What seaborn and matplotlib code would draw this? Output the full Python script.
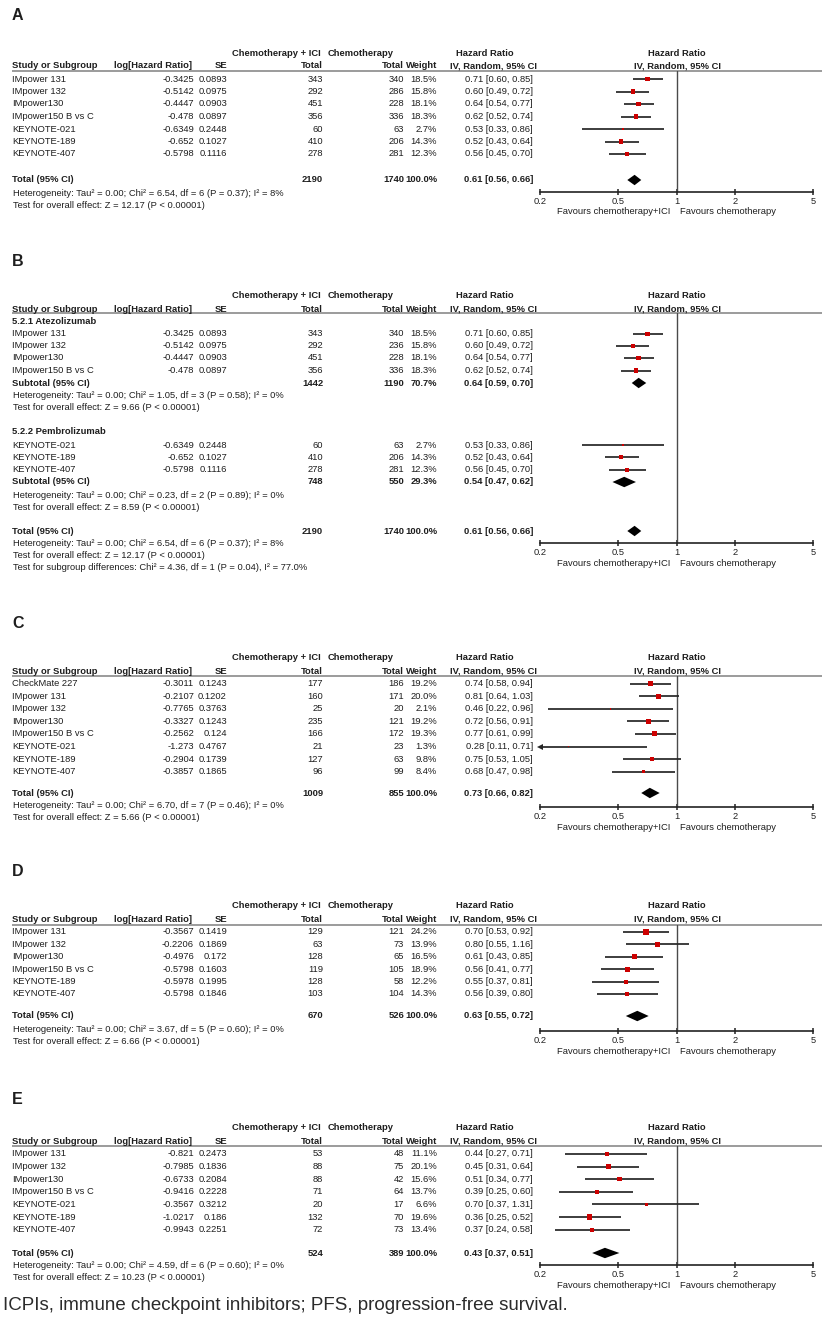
import numpy as np
import matplotlib
matplotlib.use("Agg")
import matplotlib.pyplot as plt
from matplotlib.ticker import NullLocator
import seaborn as sns
import pandas as pd

sns.set_theme(style="white")
plt.rcParams['font.family'] = ['Liberation Sans', 'DejaVu Sans']

# ---------------- data ----------------
# Panel A
A_study = ['IMpower 131', 'IMpower 132', 'IMpower130', 'IMpower150 B vs C', 'KEYNOTE-021', 'KEYNOTE-189', 'KEYNOTE-407']
A_loghr = [-0.3425, -0.5142, -0.4447, -0.478, -0.6349, -0.652, -0.5798]
A_se = [0.0893, 0.0975, 0.0903, 0.0897, 0.2448, 0.1027, 0.1116]
A_ici = [343, 292, 451, 356, 60, 410, 278]
A_chemo = [340, 286, 228, 336, 63, 206, 281]
A_weight = [18.5, 15.8, 18.1, 18.3, 2.7, 14.3, 12.3]
A_hr = [0.71, 0.60, 0.64, 0.62, 0.53, 0.52, 0.56]
A_lo = [0.60, 0.49, 0.54, 0.52, 0.33, 0.43, 0.45]
A_hi = [0.85, 0.72, 0.77, 0.74, 0.86, 0.64, 0.70]
A_total = [2190, 1740, 100.0, 0.61, 0.56, 0.66]
A_stats = ['Heterogeneity: Tau² = 0.00; Chi² = 6.54, df = 6 (P = 0.37); I² = 8%',
           'Test for overall effect: Z = 12.17 (P < 0.00001)']

# Panel B (subgroups)
B_groups = ['5.2.1 Atezolizumab', '5.2.2 Pembrolizumab']
B_study = A_study
B_loghr = A_loghr
B_se = A_se
B_ici = A_ici
B_chemo = [340, 236, 228, 336, 63, 206, 281]
B_weight = A_weight
B_hr = A_hr
B_lo = A_lo
B_hi = A_hi
B_sub = [[1442, 1190, 70.7, 0.64, 0.59, 0.70],
         [748, 550, 29.3, 0.54, 0.47, 0.62]]
B_sub_stats = [['Heterogeneity: Tau² = 0.00; Chi² = 1.05, df = 3 (P = 0.58); I² = 0%',
                'Test for overall effect: Z = 9.66 (P < 0.00001)'],
               ['Heterogeneity: Tau² = 0.00; Chi² = 0.23, df = 2 (P = 0.89); I² = 0%',
                'Test for overall effect: Z = 8.59 (P < 0.00001)']]
B_total = A_total
B_stats = A_stats + ['Test for subgroup differences: Chi² = 4.36, df = 1 (P = 0.04), I² = 77.0%']

# Panel C
C_study = ['CheckMate 227', 'IMpower 131', 'IMpower 132', 'IMpower130', 'IMpower150 B vs C', 'KEYNOTE-021', 'KEYNOTE-189', 'KEYNOTE-407']
C_loghr = [-0.3011, -0.2107, -0.7765, -0.3327, -0.2562, -1.273, -0.2904, -0.3857]
C_se = [0.1243, 0.1202, 0.3763, 0.1243, 0.124, 0.4767, 0.1739, 0.1865]
C_ici = [177, 160, 25, 235, 166, 21, 127, 96]
C_chemo = [186, 171, 20, 121, 172, 23, 63, 99]
C_weight = [19.2, 20.0, 2.1, 19.2, 19.3, 1.3, 9.8, 8.4]
C_hr = [0.74, 0.81, 0.46, 0.72, 0.77, 0.28, 0.75, 0.68]
C_lo = [0.58, 0.64, 0.22, 0.56, 0.61, 0.11, 0.53, 0.47]
C_hi = [0.94, 1.03, 0.96, 0.91, 0.99, 0.71, 1.05, 0.98]
C_total = [1009, 855, 100.0, 0.73, 0.66, 0.82]
C_stats = ['Heterogeneity: Tau² = 0.00; Chi² = 6.70, df = 7 (P = 0.46); I² = 0%',
           'Test for overall effect: Z = 5.66 (P < 0.00001)']

# Panel D
D_study = ['IMpower 131', 'IMpower 132', 'IMpower130', 'IMpower150 B vs C', 'KEYNOTE-189', 'KEYNOTE-407']
D_loghr = [-0.3567, -0.2206, -0.4976, -0.5798, -0.5978, -0.5798]
D_se = [0.1419, 0.1869, 0.172, 0.1603, 0.1995, 0.1846]
D_ici = [129, 63, 128, 119, 128, 103]
D_chemo = [121, 73, 65, 105, 58, 104]
D_weight = [24.2, 13.9, 16.5, 18.9, 12.2, 14.3]
D_hr = [0.70, 0.80, 0.61, 0.56, 0.55, 0.56]
D_lo = [0.53, 0.55, 0.43, 0.41, 0.37, 0.39]
D_hi = [0.92, 1.16, 0.85, 0.77, 0.81, 0.80]
D_total = [670, 526, 100.0, 0.63, 0.55, 0.72]
D_stats = ['Heterogeneity: Tau² = 0.00; Chi² = 3.67, df = 5 (P = 0.60); I² = 0%',
           'Test for overall effect: Z = 6.66 (P < 0.00001)']

# Panel E
E_study = ['IMpower 131', 'IMpower 132', 'IMpower130', 'IMpower150 B vs C', 'KEYNOTE-021', 'KEYNOTE-189', 'KEYNOTE-407']
E_loghr = [-0.821, -0.7985, -0.6733, -0.9416, -0.3567, -1.0217, -0.9943]
E_se = [0.2473, 0.1836, 0.2084, 0.2228, 0.3212, 0.186, 0.2251]
E_ici = [53, 88, 88, 71, 20, 132, 72]
E_chemo = [48, 75, 42, 64, 17, 70, 73]
E_weight = [11.1, 20.1, 15.6, 13.7, 6.6, 19.6, 13.4]
E_hr = [0.44, 0.45, 0.51, 0.39, 0.70, 0.36, 0.37]
E_lo = [0.27, 0.31, 0.34, 0.25, 0.37, 0.25, 0.24]
E_hi = [0.71, 0.64, 0.77, 0.60, 1.31, 0.52, 0.58]
E_total = [524, 389, 100.0, 0.43, 0.37, 0.51]
E_stats = ['Heterogeneity: Tau² = 0.00; Chi² = 4.59, df = 6 (P = 0.60); I² = 0%',
           'Test for overall effect: Z = 10.23 (P < 0.00001)']

TICKS = [0.2, 0.5, 1, 2, 5]
TICK_LABELS = ['0.2', '0.5', '1', '2', '5']
FAV_LEFT = 'Favours chemotherapy+ICI'
FAV_RIGHT = 'Favours chemotherapy'
CAPTION = 'ICPIs, immune checkpoint inhibitors; PFS, progression-free survival.'

# ---------------- layout ----------------
W, H = 831, 1339
FS = 6.75
TXT = '#1e1e1e'
X0, X1 = 540, 813

fig = plt.figure(figsize=(W / 100, H / 100), dpi=100)
fig.patch.set_facecolor('white')
ov = fig.add_axes([0, 0, 1, 1])
ov.set_xlim(0, W)
ov.set_ylim(H, 0)
ov.axis('off')


def t(x, y, s, ha='left', bold=False, size=FS, color=TXT):
    ov.text(x, y, s, ha=ha, va='center', fontsize=size,
            fontweight='bold' if bold else 'normal', color=color)


def header(label, ly, h1, h2, line):
    t(12, ly, label, bold=True, size=11.5)
    t(321, h1, 'Chemotherapy + ICI', ha='right', bold=True)
    t(328, h1, 'Chemotherapy', bold=True)
    t(485, h1, 'Hazard Ratio', ha='center', bold=True)
    t(677, h1, 'Hazard Ratio', ha='center', bold=True)
    t(12, h2, 'Study or Subgroup', bold=True)
    t(192, h2, 'log[Hazard Ratio]', ha='right', bold=True)
    t(227, h2, 'SE', ha='right', bold=True)
    t(323, h2, 'Total', ha='right', bold=True)
    t(404, h2, 'Total', ha='right', bold=True)
    t(437, h2, 'Weight', ha='right', bold=True)
    t(537, h2, 'IV, Random, 95% CI', ha='right', bold=True)
    t(678, h2, 'IV, Random, 95% CI', ha='center', bold=True)
    ov.plot([12, 822], [line, line], color='#808080', lw=1.1, solid_capstyle='butt')


def study_rows(ys, names, loghr, se, ici, chemo, wt, hr, lo, hi):
    for y, n, lg, s, a, b, w, h, l, u in zip(ys, names, loghr, se, ici, chemo, wt, hr, lo, hi):
        t(12, y, n)
        t(194, y, str(lg), 'right')
        t(227, y, str(s), 'right')
        t(323, y, str(a), 'right')
        t(404, y, str(b), 'right')
        t(437, y, f'{w:.1f}%', 'right')
        t(533, y, f'{h:.2f} [{l:.2f}, {u:.2f}]', 'right')


def total_row(y, label, vals):
    n1, n2, w, h, l, u = vals
    t(12, y, label, bold=True)
    t(323, y, str(n1), 'right', True)
    t(404, y, str(n2), 'right', True)
    t(437, y, f'{w:.1f}%', 'right', True)
    t(533, y, f'{h:.2f} [{l:.2f}, {u:.2f}]', 'right', True)


def stats_rows(ys, lines):
    for y, s in zip(ys, lines):
        t(13, y, s)


def forest_ax(line_y, axis_y):
    ax = fig.add_axes([X0 / W, 1 - axis_y / H, (X1 - X0) / W, (axis_y - line_y) / H])
    ax.set_xscale('log')
    ax.set_xlim(0.2, 5)
    ax.set_ylim(axis_y, line_y)
    ax.patch.set_alpha(0)
    for s in ['top', 'left', 'right']:
        ax.spines[s].set_visible(False)
    ax.spines['bottom'].set_color('#222222')
    ax.spines['bottom'].set_linewidth(1.2)
    ax.set_xticks(TICKS)
    ax.set_xticklabels(TICK_LABELS)
    ax.xaxis.set_minor_locator(NullLocator())
    ax.set_yticks([])
    ax.tick_params(axis='x', direction='inout', length=5, width=1.1, labelsize=FS,
                   pad=0.8, colors='#222222', bottom=True)
    ax.axvline(1, color='#4a4a4a', lw=1.0)
    ax.grid(False)
    return ax


def draw_studies(ax, ys, hr, lo, hi, wt):
    lo_arr = np.asarray(lo, float)
    lo_c = np.maximum(lo_arr, 0.2)
    ax.hlines(ys, lo_c, hi, color='#262626', lw=1.25)
    for y, l in zip(ys, lo_arr):
        if l < 0.2:
            ax.plot([0.2], [y], marker='<', ms=4, color='#262626', clip_on=False, mew=0)
    df = pd.DataFrame({'hr': hr, 'y': ys, 'w': wt})
    sns.scatterplot(data=df, x='hr', y='y', size='w', sizes=(0, 17), size_norm=(0, 25),
                    marker='s', color='#cc0000', edgecolor='none', linewidth=0,
                    legend=False, ax=ax, zorder=3)
    ax.set_xlabel('')
    ax.set_ylabel('')


def diamond(ax, y, vals, h=5.2):
    _, _, _, hr, lo, hi = vals
    ax.fill([lo, hr, hi, hr], [y, y - h, y, y + h], color='black', lw=0, zorder=3)


def favours(axis_y):
    t(670, axis_y + 20, FAV_LEFT, 'right')
    t(680, axis_y + 20, FAV_RIGHT, 'left')


def simple_panel(label, ly, h1, h2, line, row0, step, tot_y, axis_y,
                 names, loghr, se, ici, chemo, wt, hr, lo, hi, total, stats):
    header(label, ly, h1, h2, line)
    ys = [row0 + step * i for i in range(len(names))]
    study_rows(ys, names, loghr, se, ici, chemo, wt, hr, lo, hi)
    total_row(tot_y, 'Total (95% CI)', total)
    stats_rows([tot_y + 13, tot_y + 25], stats)
    ax = forest_ax(line, axis_y)
    draw_studies(ax, ys, hr, lo, hi, wt)
    diamond(ax, tot_y, total)
    favours(axis_y)


# Panel A
simple_panel('A', 15, 53, 66, 71, 79, 12.5, 180, 192,
             A_study, A_loghr, A_se, A_ici, A_chemo, A_weight, A_hr, A_lo, A_hi, A_total, A_stats)

# Panel B
header('B', 262, 296, 309, 313)
B_group_y = [321, 432]
B_rows_y = [334, 346, 358, 370.5, 445, 457, 470]
B_sub_y = [383, 482]
for gi, gname in enumerate(B_groups):
    t(12, B_group_y[gi], gname, bold=True)
study_rows(B_rows_y, B_study, B_loghr, B_se, B_ici, B_chemo, B_weight, B_hr, B_lo, B_hi)
axB = forest_ax(313, 543)
draw_studies(axB, B_rows_y, B_hr, B_lo, B_hi, B_weight)
for gi in range(2):
    total_row(B_sub_y[gi], 'Subtotal (95% CI)', B_sub[gi])
    stats_rows([B_sub_y[gi] + 13, B_sub_y[gi] + 25], B_sub_stats[gi])
    diamond(axB, B_sub_y[gi], B_sub[gi])
total_row(531, 'Total (95% CI)', B_total)
stats_rows([544, 556, 568], B_stats)
diamond(axB, 531, B_total)
favours(543)

# Panel C
simple_panel('C', 623, 658, 671, 676, 683.5, 12.6, 793, 807,
             C_study, C_loghr, C_se, C_ici, C_chemo, C_weight, C_hr, C_lo, C_hi, C_total, C_stats)

# Panel D
simple_panel('D', 872, 906, 919, 925, 932, 12.4, 1016, 1031,
             D_study, D_loghr, D_se, D_ici, D_chemo, D_weight, D_hr, D_lo, D_hi, D_total, D_stats)

# Panel E
simple_panel('E', 1100, 1128, 1141, 1146, 1154, 12.6, 1253, 1265,
             E_study, E_loghr, E_se, E_ici, E_chemo, E_weight, E_hr, E_lo, E_hi, E_total, E_stats)

# Caption
t(3, 1305, CAPTION, size=13.5, color='#2b2b2b')

fig.savefig('out.png', dpi=100, facecolor='white')
